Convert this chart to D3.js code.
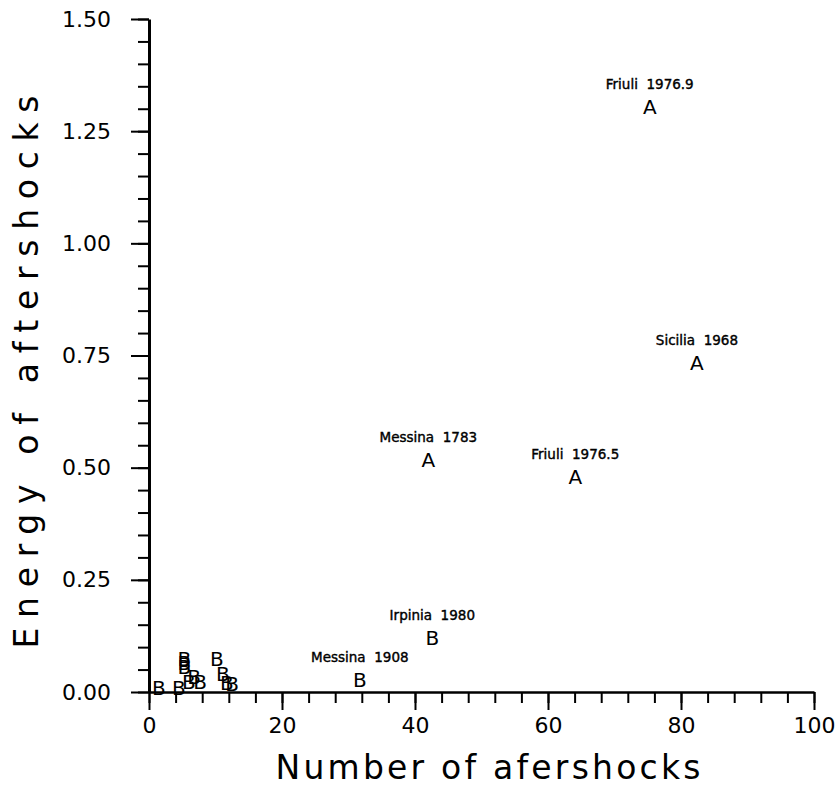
<!DOCTYPE html>
<html>
<head>
<meta charset="utf-8">
<script src="https://cdn.jsdelivr.net/npm/d3@7"></script>
<style>
  body { margin: 0; background: #ffffff; }
  text { font-family: "DejaVu Sans", "Liberation Sans", Arial, sans-serif; fill: #000; }
</style>
</head>
<body>
<div id="chart"></div>
<script>
// aftershock events: class letter, number of aftershocks, energy, name (blank = unlabelled)
var classes  = ["A", "A", "A", "A", "B", "B",
                "B", "B", "B", "B", "B", "B", "B", "B", "B", "B", "B", "B"];
var counts   = [75.3, 82.4, 42.0, 64.1, 42.6, 31.7,
                1.5, 4.5, 5.3, 5.3, 5.3, 6.8, 7.7, 6.0, 10.2, 11.1, 11.7, 12.5];
var energies = [1.304, 0.733, 0.517, 0.480, 0.120, 0.027,
                0.010, 0.010, 0.074, 0.065, 0.056, 0.033, 0.022, 0.022, 0.074, 0.040, 0.020, 0.018];
var names    = ["Friuli  1976.9", "Sicilia  1968", "Messina  1783", "Friuli  1976.5", "Irpinia  1980", "Messina  1908",
                "", "", "", "", "", "", "", "", "", "", "", ""];

// tick values
var xMajor = [0, 20, 40, 60, 80, 100];
var yMajor = [0, 0.25, 0.5, 0.75, 1.0, 1.25, 1.5];
var xMinor = d3.range(0, 101, 4);
var yMinor = d3.range(0, 31).map(function(i){ return i * 0.05; });

var width = 840, height = 791;

var svg = d3.select("#chart").append("svg")
  .attr("width", width)
  .attr("height", height);

var x = d3.scaleLinear().domain([0, 100]).range([149, 814]);
var y = d3.scaleLinear().domain([0, 1.5]).range([692, 19]);

// minor ticks first, no labels
svg.append("g").attr("class", "x_minor")
  .attr("transform", "translate(0," + y(0) + ")")
  .call(d3.axisBottom(x).tickValues(xMinor).tickSize(11).tickSizeOuter(0).tickFormat(""));
svg.append("g").attr("class", "y_minor")
  .attr("transform", "translate(" + x(0) + ",0)")
  .call(d3.axisLeft(y).tickValues(yMinor).tickSize(11).tickSizeOuter(0).tickFormat(""));

// major ticks with labels
var xAxis = svg.append("g").attr("class", "x_axis")
  .attr("transform", "translate(0," + y(0) + ")")
  .call(d3.axisBottom(x).tickValues(xMajor).tickSize(18).tickSizeOuter(0).tickPadding(7).tickFormat(d3.format("d")));
var yAxis = svg.append("g").attr("class", "y_axis")
  .attr("transform", "translate(" + x(0) + ",0)")
  .call(d3.axisLeft(y).tickValues(yMajor).tickSize(18).tickSizeOuter(0).tickPadding(20).tickFormat(d3.format(".2f")));

svg.selectAll(".x_minor line, .y_minor line, .x_axis line, .y_axis line")
  .attr("stroke", "#000").attr("stroke-width", 2);
svg.selectAll(".x_minor path, .y_minor path").attr("stroke", "none");
xAxis.select("path").attr("stroke", "#000").attr("stroke-width", 2.5);
yAxis.select("path").attr("stroke", "#000").attr("stroke-width", 3);

svg.selectAll(".x_axis text, .y_axis text")
  .attr("font-size", 22)
  .attr("font-family", "DejaVu Sans, Liberation Sans, Arial, sans-serif")
  .attr("fill", "#000");

// axis titles
svg.append("text")
  .attr("x", 488).attr("y", 779)
  .attr("text-anchor", "middle")
  .attr("font-size", 33)
  .attr("textLength", 425)
  .attr("lengthAdjust", "spacing")
  .text("Number of afershocks");

svg.append("text")
  .attr("transform", "translate(38,372) rotate(-90)")
  .attr("text-anchor", "middle")
  .attr("font-size", 33)
  .attr("textLength", 553)
  .attr("lengthAdjust", "spacing")
  .text("Energy of aftershocks");

// points drawn as class letters
var idx = d3.range(counts.length);

svg.append("g").attr("class", "points")
  .selectAll("text").data(idx).enter().append("text")
  .attr("x", function(i){ return x(counts[i]); })
  .attr("y", function(i){ return y(energies[i]); })
  .attr("dy", "0.36em")
  .attr("text-anchor", "middle")
  .attr("font-size", 20)
  .text(function(i){ return classes[i]; });

svg.append("g").attr("class", "names")
  .selectAll("text").data(idx.filter(function(i){ return names[i] !== ""; })).enter().append("text")
  .attr("x", function(i){ return x(counts[i]); })
  .attr("y", function(i){ return y(energies[i]) - 18; })
  .attr("text-anchor", "middle")
  .attr("font-size", 13.5)
  .attr("stroke", "#000")
  .attr("stroke-width", 0.4)
  .attr("xml:space", "preserve")
  .text(function(i){ return names[i]; });
</script>
</body>
</html>
